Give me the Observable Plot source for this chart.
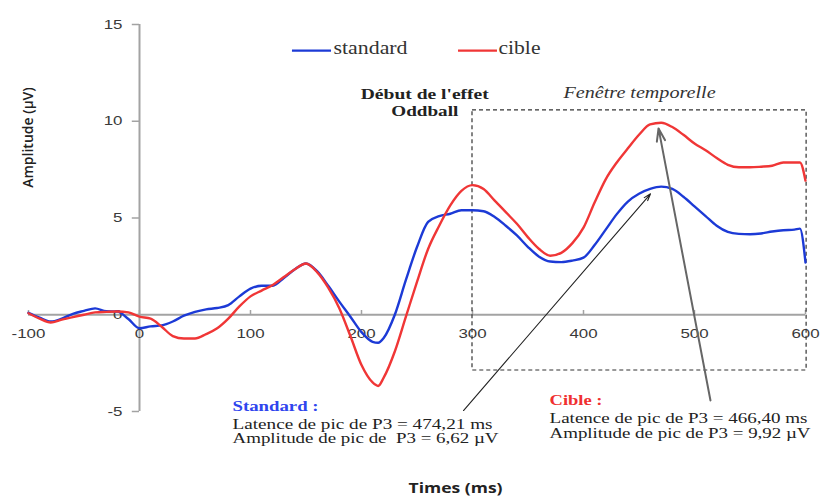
<!DOCTYPE html>
<html>
<head>
<meta charset="utf-8">
<script src="https://cdn.jsdelivr.net/npm/d3@7"></script>
<script src="https://cdn.jsdelivr.net/npm/@observablehq/plot@0.6"></script>
<style>
  html, body { margin: 0; padding: 0; background: #fff; }
  #chart { width: 821px; height: 498px; }
</style>
</head>
<body>
<div id="chart"></div>
<script>
// ---- Data ----
const times = [-100,-90,-80,-70,-60,-50,-40,-30,-20,-10,0,10,20,30,40,50,60,70,80,90,
  100,110,120,130,140,150,160,170,180,190,200,210,215,220,230,240,250,260,270,280,290,
  300,310,320,330,340,350,360,370,380,390,400,410,420,430,440,450,460,470,480,490,
  500,510,520,530,540,550,560,570,580,590,595,600];

const standard = [0.1,-0.15,-0.35,-0.2,0.05,0.2,0.33,0.18,0.17,-0.22,-0.7,-0.6,-0.55,-0.35,-0.05,0.15,0.28,0.35,0.5,0.95,
  1.35,1.5,1.5,1.9,2.35,2.65,2.25,1.5,0.68,-0.1,-0.9,-1.4,-1.45,-1.2,0.0,1.8,3.5,4.8,5.1,5.22,5.4,
  5.4,5.35,5.05,4.6,4.1,3.5,3.0,2.75,2.72,2.8,2.95,3.6,4.4,5.2,5.85,6.25,6.5,6.62,6.5,6.1,
  5.6,5.1,4.6,4.28,4.18,4.16,4.2,4.3,4.37,4.4,4.45,2.7];

const cible = [0.08,-0.2,-0.4,-0.25,-0.12,0.0,0.12,0.15,0.17,0.12,-0.1,-0.2,-0.62,-1.1,-1.23,-1.23,-1.0,-0.7,-0.2,0.43,
  0.95,1.25,1.54,1.95,2.35,2.65,2.2,1.4,0.34,-1.1,-2.6,-3.5,-3.68,-3.25,-1.9,-0.1,1.7,3.4,4.6,5.65,6.4,
  6.7,6.5,5.9,5.3,4.7,4.0,3.4,3.05,3.2,3.7,4.5,5.8,7.0,7.87,8.6,9.3,9.84,9.92,9.7,9.3,
  8.85,8.5,8.1,7.75,7.62,7.62,7.65,7.7,7.87,7.87,7.87,6.93];

const seriesNames = ["standard", "cible"];
const seriesColors = ["#1c3ad6", "#f03636"];
const xTicks = [-100, 0, 100, 200, 300, 400, 500, 600];
const yTicks = [-5, 0, 5, 10, 15];

// Annotation texts
const standardHead = "Standard :";
const standardLines = ["Latence de pic de P3 = 474,21 ms", "Amplitude de pic de  P3 = 6,62 µV"];
const cibleHead = "Cible :";
const cibleLines = ["Latence de pic de P3 = 466,40 ms", "Amplitude de pic de P3 = 9,92 µV"];
const onsetNote = ["Début de l'effet", "Oddball"];
const windowNote = "Fenêtre temporelle";
const xTitle = "Times (ms)";
const yTitle = "Amplitude (µV)";

// ---- Build table ----
const rows = times.flatMap((t, i) => [
  {t, v: standard[i], s: seriesNames[0]},
  {t, v: cible[i], s: seriesNames[1]}
]);

const serif = "'Liberation Serif', 'Times New Roman', serif";
const sans = "'Liberation Sans', Arial, sans-serif";

const chart = Plot.plot({
  width: 821,
  height: 498,
  marginLeft: 28,
  marginRight: 16,
  marginTop: 24,
  marginBottom: 87,
  x: {domain: [-100, 600], axis: null},
  y: {domain: [-5, 15], axis: null},
  color: {domain: seriesNames, range: seriesColors},
  style: {background: "#fff", fontFamily: sans, overflow: "visible"},
  marks: [
    // axes through the origin
    Plot.ruleX([0], {y1: -5, y2: 15, stroke: "#a3a3a3", strokeWidth: 2}),
    Plot.ruleY([0], {x1: -100, x2: 600, stroke: "#a3a3a3", strokeWidth: 2}),
    Plot.ruleY(yTicks, {y: d => d, x1: -6.5, x2: 0, stroke: "#a3a3a3", strokeWidth: 1.5}),
    Plot.ruleX(xTicks, {x: d => d, y1: 0, y2: 0.22, stroke: "#a3a3a3", strokeWidth: 1.5}),
    Plot.text(yTicks, {x: 0, y: d => d, text: d => String(d), textAnchor: "end", dx: -17, fontSize: 13, fill: "#3a3a3a", fontFamily: sans}),
    Plot.text(xTicks, {x: d => d, y: 0, text: d => String(d), dy: 19, fontSize: 13, fill: "#3a3a3a", fontFamily: sans}),

    // time window box
    Plot.rect([windowNote], {x1: 300, x2: 601, y1: -2.88, y2: 10.56, fill: "none", stroke: "#333", strokeWidth: 1.2, strokeDasharray: "4,3"}),

    // ERP curves
    Plot.line(rows, {x: "t", y: "v", z: "s", stroke: "s", strokeWidth: 2.4, curve: "monotone-x"}),

    // arrows
    Plot.arrow([standardHead], {x1: 291.9, y1: -4.95, x2: 460.4, y2: 6.25, stroke: "#222", strokeWidth: 1.1, headLength: 10, headAngle: 36}),
    Plot.arrow([cibleHead], {x1: 514.4, y1: -4.43, x2: 467.6, y2: 9.63, stroke: "#666", strokeWidth: 2, headLength: 10, headAngle: 36}),

    // legend
    Plot.ruleY(seriesNames, {y: 13.65, x1: d => d === "standard" ? 137.8 : 287.4, x2: d => d === "standard" ? 173 : 322.5, stroke: d => d, strokeWidth: 2.4}),
    Plot.text(seriesNames, {x: d => d === "standard" ? 174.8 : 323.4, y: 13.75, text: d => d, textAnchor: "start", fontSize: 18, fill: "#333", fontFamily: serif}),

    // onset / window labels
    Plot.text(onsetNote, {x: 257, y: (d, i) => [11.36, 10.48][i], text: d => d, fontSize: 14, fontWeight: "bold", fill: "#222", fontFamily: serif}),
    Plot.text([windowNote], {x: 450.5, y: 11.49, text: d => d, fontSize: 16, fontStyle: "italic", fill: "#333", fontFamily: serif}),

    // peak notes
    Plot.text([standardHead], {x: 83.8, y: -4.72, text: d => d, textAnchor: "start", fontSize: 14, fontWeight: "bold", fill: "#2f45ee", fontFamily: serif}),
    Plot.text(standardLines, {x: 83.8, y: (d, i) => [-5.65, -6.42][i], text: d => d, textAnchor: "start", fontSize: 14, fill: "#222", fontFamily: serif}),
    Plot.text([cibleHead], {x: 369.4, y: -4.41, text: d => d, textAnchor: "start", fontSize: 14, fontWeight: "bold", fill: "#f03030", fontFamily: serif}),
    Plot.text(cibleLines, {x: 369.4, y: (d, i) => [-5.34, -6.16][i], text: d => d, textAnchor: "start", fontSize: 14, fill: "#222", fontFamily: serif}),

    // axis titles
    Plot.text([xTitle], {x: 284.7, y: -8.95, text: d => d, fontSize: 14.5, fontWeight: "bold", fill: "#222", fontFamily: "'Open Sans', sans-serif"}),
    Plot.text([yTitle], {x: -100, y: 9.16, text: d => d, rotate: -90, fontSize: 14, fontWeight: 600, fill: "#222", fontFamily: "'Open Sans', sans-serif"})
  ]
});

document.getElementById("chart").appendChild(chart);

// The reference's lettering is horizontally wide; stretch glyphs to its measured widths.
const textWidths = {
  "standard": 74, "cible": 42,
  "Début de l'effet": 128, "Oddball": 67, "Fenêtre temporelle": 152,
  "Standard :": 86, "Latence de pic de P3 = 474,21 ms": 260, "Amplitude de pic de  P3 = 6,62 µV": 266,
  "Cible :": 53, "Latence de pic de P3 = 466,40 ms": 258, "Amplitude de pic de P3 = 9,92 µV": 261,
  "Times (ms)": 94
};
const tickStretch = 1.3;
const tickSet = new Set([...xTicks, ...yTicks].map(String));
d3.select(chart).selectAll("text").each(function() {
  const s = this.textContent;
  let w = null;
  if (textWidths[s] != null) w = textWidths[s];
  else if (tickSet.has(s)) w = this.getComputedTextLength() * tickStretch;
  if (w != null) {
    this.setAttribute("textLength", w);
    this.setAttribute("lengthAdjust", "spacingAndGlyphs");
  }
});
</script>
</body>
</html>
